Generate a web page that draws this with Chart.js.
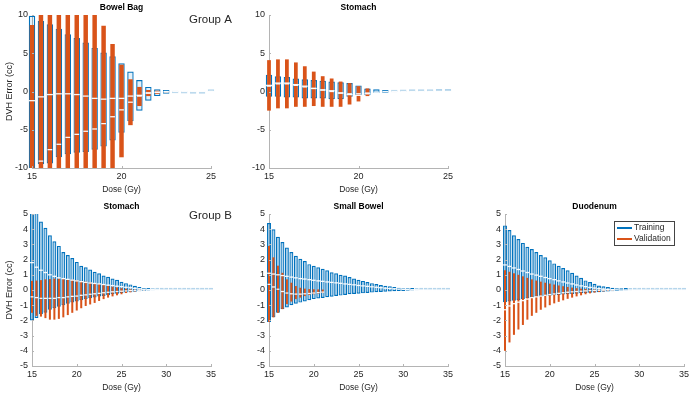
<!DOCTYPE html>
<html>
<head>
<meta charset="utf-8">
<script src="https://cdn.jsdelivr.net/npm/chart.js@4"></script>
<style>
  body { margin: 0; background: #fff; }
  #wrap { position: relative; width: 700px; height: 394px; background: #fff; }
  canvas { position: absolute; }
</style>
</head>
<body>
<div id="wrap">
  <canvas id="bowelA" width="232" height="197" style="left:0;top:0"></canvas>
  <canvas id="stomachA" width="230" height="197" style="left:237px;top:0"></canvas>
  <canvas id="stomachB" width="232" height="195" style="left:0;top:199px"></canvas>
  <canvas id="smallB" width="230" height="195" style="left:237px;top:199px"></canvas>
  <canvas id="duoB" width="230" height="195" style="left:473px;top:199px"></canvas>
</div>
<script>
// dose bins (Gy)
var doseA = [15, 15.5, 16, 16.5, 17, 17.5, 18, 18.5, 19, 19.5, 20, 20.5, 21, 21.5, 22, 22.5, 23, 23.5, 24, 24.5, 25];
var doseB = [15, 15.5, 16, 16.5, 17, 17.5, 18, 18.5, 19, 19.5, 20, 20.5, 21, 21.5, 22, 22.5, 23, 23.5, 24, 24.5,
             25, 25.5, 26, 26.5, 27, 27.5, 28, 28.5, 29, 29.5, 30, 30.5, 31, 31.5, 32, 32.5, 33, 33.5, 34, 34.5, 35];

// Group A - Bowel Bag
var bowelTrainHigh = [9.9, 9.2, 8.8, 8.2, 7.5, 7.0, 6.4, 5.7, 5.1, 4.6, 3.7, 2.6, 1.5, 0.6, 0.3, 0.2, 0.1, 0.06, 0.04, 0.03, 0.02];
var bowelTrainLow = [-12, -9.5, -9.4, -8.6, -8.2, -8.0, -7.9, -7.6, -7.2, -6.4, -5.4, -3.9, -2.5, -1.2, -0.6, -0.3, -0.2, -0.1, -0.06, -0.04, -0.02];
var bowelTrainMed = [-1.2, -0.7, -0.4, -0.3, -0.3, -0.4, -0.6, -0.9, -1.0, -0.9, -0.9, -0.6, -0.5, -0.2, -0.1, -0.05, 0, 0, 0, 0, 0];
var bowelValHigh = [8.7, 12, 12, 12, 12, 12, 12, 12, 8.6, 6.2, 3.5, 1.6, 0.6, 0.2, 0.1, 0.05, null, null, null, null, null];
var bowelValLow = [-12, -12, -12, -12, -12, -12, -12, -12, -12, -12, -8.6, -4.4, -1.9, -0.6, -0.3, -0.1, null, null, null, null, null];
var bowelValMed = [null, -9.1, -7.6, -6.9, -6.0, -5.6, -5.2, -4.9, -4.2, -3.3, -2.4, -1.4, -0.6, -0.2, -0.1, 0, null, null, null, null, null];

// Group A - Stomach
var stomATrainHigh = [2.2, 2.0, 1.9, 1.7, 1.6, 1.5, 1.4, 1.3, 1.2, 1.1, 0.8, 0.4, 0.3, 0.2, 0.1, 0.06, 0.04, 0.03, 0.02, 0.01, 0.01];
var stomATrainLow = [-0.7, -0.7, -0.8, -0.8, -0.9, -0.9, -0.9, -1.0, -1.0, -0.7, -0.5, -0.5, -0.2, -0.15, -0.1, -0.06, -0.04, -0.03, -0.02, -0.01, -0.01];
var stomATrainMed = [0.8, 1.1, 1.1, 0.9, 0.7, 0.4, 0.2, 0.1, -0.2, -0.4, -0.5, -0.3, -0.1, 0, 0, 0, 0, 0, 0, 0, 0];
var stomAValHigh = [4.1, 4.2, 4.2, 3.8, 3.3, 2.6, 2.0, 1.7, 1.3, 1.1, 0.7, 0.4, null, null, null, null, null, null, null, null, null];
var stomAValLow = [-2.5, -2.2, -2.2, -2.0, -2.0, -1.9, -2.0, -2.0, -2.0, -1.7, -1.3, -0.6, null, null, null, null, null, null, null, null, null];
var stomAValMed = [0.7, 1.0, 1.0, 0.8, 0.6, 0.4, 0.2, 0.0, -0.2, -0.3, -0.3, -0.2, null, null, null, null, null, null, null, null, null];

// Group B - Stomach
var stomBTrainHigh = [5.6, 5.2, 4.5, 4.1, 3.6, 3.2, 2.9, 2.5, 2.3, 2.1, 1.85, 1.6, 1.5, 1.35, 1.2, 1.1, 0.95, 0.87, 0.76, 0.67,
                      0.54, 0.45, 0.37, 0.28, 0.2, 0.13, 0.09, 0.06, 0.04, 0.03, 0.02, 0.02, 0.01, 0.01, 0.01, 0.01, 0.01, 0.01, 0.01, 0.01, 0.01];
var stomBTrainLow = [-2.0, -1.85, -1.6, -1.5, -1.3, -1.2, -1.1, -1.0, -0.9, -0.83, -0.76, -0.67, -0.6, -0.54, -0.5, -0.43, -0.39, -0.35, -0.28, -0.24,
                     -0.2, -0.17, -0.14, -0.11, -0.08, -0.06, -0.04, -0.03, -0.02, -0.02, -0.01, -0.01, -0.01, -0.01, -0.01, -0.01, -0.01, -0.01, -0.01, -0.01, -0.01];
var stomBTrainMed = [1.8, 1.5, 1.3, 1.15, 1.0, 0.9, 0.8, 0.75, 0.7, 0.65, 0.6, 0.55, 0.5, 0.46, 0.43, 0.4, 0.36, 0.32, 0.29, 0.25,
                     0.22, 0.18, 0.15, 0.11, 0.08, 0.05, 0.03, 0.02, 0.01, 0, 0, 0, 0, 0, 0, 0, 0, 0, 0, 0, 0];
var stomBValHigh = [0.6, 0.62, 0.65, 0.7, 0.72, 0.75, 0.75, 0.72, 0.7, 0.68, 0.65, 0.6, 0.55, 0.5, 0.45, 0.4, 0.33, 0.27, 0.22, 0.17,
                    0.12, 0.08, 0.05, 0.03, 0.02, 0.01, null, null, null, null, null, null, null, null, null, null, null, null, null, null, null];
var stomBValLow = [-1.5, -1.7, -1.75, -1.85, -1.95, -1.95, -1.9, -1.8, -1.65, -1.5, -1.35, -1.2, -1.05, -0.95, -0.85, -0.72, -0.6, -0.5, -0.42, -0.35,
                   -0.28, -0.2, -0.15, -0.1, -0.06, -0.03, null, null, null, null, null, null, null, null, null, null, null, null, null, null, null];
var stomBValMed = [-0.45, -0.5, -0.55, -0.55, -0.55, -0.55, -0.5, -0.5, -0.45, -0.42, -0.4, -0.35, -0.32, -0.28, -0.25, -0.22, -0.18, -0.15, -0.12, -0.1,
                   -0.08, -0.06, -0.04, -0.03, -0.02, -0.01, null, null, null, null, null, null, null, null, null, null, null, null, null, null, null];

// Group B - Small Bowel
var smallTrainHigh = [4.4, 4.0, 3.5, 3.15, 2.8, 2.5, 2.25, 2.05, 1.9, 1.7, 1.6, 1.5, 1.4, 1.3, 1.17, 1.1, 1.0, 0.95, 0.85, 0.76,
                      0.67, 0.6, 0.52, 0.45, 0.39, 0.33, 0.28, 0.24, 0.2, 0.15, 0.12, 0.09, 0.07, 0.05, 0.03, 0.02, 0.01, 0.01, 0.01, 0.01, 0.01];
var smallTrainLow = [-2.1, -1.8, -1.5, -1.25, -1.15, -1.0, -0.9, -0.83, -0.76, -0.67, -0.6, -0.56, -0.52, -0.48, -0.44, -0.39, -0.37, -0.33, -0.28, -0.26,
                     -0.24, -0.22, -0.2, -0.17, -0.15, -0.13, -0.11, -0.1, -0.08, -0.07, -0.06, -0.05, -0.04, -0.03, -0.02, -0.01, -0.01, -0.01, -0.01, -0.01, -0.01];
var smallTrainMed = [1.1, 1.05, 1.0, 0.95, 0.9, 0.85, 0.8, 0.75, 0.72, 0.68, 0.64, 0.6, 0.57, 0.53, 0.5, 0.47, 0.44, 0.4, 0.37, 0.34,
                     0.3, 0.27, 0.24, 0.21, 0.18, 0.15, 0.12, 0.1, 0.08, 0.06, 0.04, 0.03, 0.02, 0.01, 0, 0, 0, 0, 0, 0, 0];
var smallValHigh = [2.9, 2.15, 1.6, 1.13, 0.7, 0.48, 0.26, 0.15, 0.09, 0.06, 0.05, 0.04, 0.03, null, null, null, null, null, null, null,
                    null, null, null, null, null, null, null, null, null, null, null, null, null, null, null, null, null, null, null, null, null];
var smallValLow = [-2.1, -1.8, -1.5, -1.26, -0.93, -0.76, -0.6, -0.5, -0.4, -0.33, -0.28, -0.24, -0.2, null, null, null, null, null, null, null,
                   null, null, null, null, null, null, null, null, null, null, null, null, null, null, null, null, null, null, null, null, null];
var smallValMed = [0.37, 0.2, 0.05, -0.1, -0.2, -0.25, -0.27, -0.27, -0.25, -0.23, -0.2, -0.17, -0.14, null, null, null, null, null, null, null,
                   null, null, null, null, null, null, null, null, null, null, null, null, null, null, null, null, null, null, null, null, null];

// Group B - Duodenum
var duoTrainHigh = [4.25, 3.95, 3.6, 3.35, 3.1, 2.85, 2.7, 2.5, 2.3, 2.15, 1.95, 1.75, 1.6, 1.45, 1.3, 1.13, 0.95, 0.8, 0.63, 0.52,
                    0.41, 0.3, 0.24, 0.2, 0.15, 0.12, 0.09, 0.06, 0.04, 0.02, 0.01, 0.01, 0.01, 0.01, 0.01, 0.01, 0.01, 0.01, 0.01, 0.01, 0.01];
var duoTrainLow = [-0.8, -0.75, -0.7, -0.65, -0.6, -0.55, -0.5, -0.45, -0.42, -0.4, -0.38, -0.35, -0.33, -0.3, -0.28, -0.26, -0.24, -0.22, -0.2, -0.18,
                   -0.16, -0.14, -0.12, -0.1, -0.08, -0.06, -0.05, -0.04, -0.03, -0.02, -0.01, -0.01, -0.01, -0.01, -0.01, -0.01, -0.01, -0.01, -0.01, -0.01, -0.01];
var duoTrainMed = [1.65, 1.55, 1.45, 1.35, 1.25, 1.15, 1.05, 0.98, 0.9, 0.82, 0.75, 0.68, 0.6, 0.53, 0.46, 0.4, 0.33, 0.27, 0.22, 0.17,
                   0.13, 0.09, 0.06, 0.04, 0.02, 0.01, 0, 0, 0, 0, 0, 0, 0, 0, 0, 0, 0, 0, 0, 0, 0];
var duoValHigh = [1.3, 1.2, 1.1, 1.0, 0.9, 0.8, 0.7, 0.62, 0.55, 0.48, 0.42, 0.36, 0.3, 0.25, 0.2, 0.16, 0.12, 0.09, 0.07, 0.05,
                  0.04, 0.03, 0.02, 0.01, 0.01, null, null, null, null, null, null, null, null, null, null, null, null, null, null, null, null];
var duoValLow = [-4.0, -3.45, -2.95, -2.6, -2.3, -1.95, -1.7, -1.5, -1.3, -1.15, -1.0, -0.88, -0.78, -0.68, -0.58, -0.5, -0.42, -0.35, -0.28, -0.22,
                 -0.17, -0.13, -0.09, -0.06, -0.04, null, null, null, null, null, null, null, null, null, null, null, null, null, null, null, null];
var duoValMed = [-1.3, -1.05, -0.9, -0.8, -0.7, -0.6, -0.5, -0.45, -0.4, -0.35, -0.3, -0.26, -0.22, -0.18, -0.15, -0.12, -0.1, -0.08, -0.06, -0.04,
                 -0.03, -0.02, -0.01, 0, 0, null, null, null, null, null, null, null, null, null, null, null, null, null, null, null, null];

var yTicksA = [-10, -5, 0, 5, 10];
var yTicksB = [-5, -4, -3, -2, -1, 0, 1, 2, 3, 4, 5];

var BLUE = '#0072BD';
var ORANGE = '#D95319';
var AXIS = '#b4b4b4';
var TEXT = '#262626';
var FONT = "'Liberation Sans', Arial, sans-serif";

function boxes(dose, lo, hi) {
    return dose.map(function (d, i) { return { x: d, y: [lo[i], hi[i]] }; })
        .filter(function (p) { return p.y[1] != null; });
}
function meds(dose, m) {
    return dose.map(function (d, i) { return { x: d, y: m[i] }; })
        .filter(function (p) { return p.y != null; });
}

// titles, group labels, inward ticks and the legend
var decor = {
    id: 'decor',
    afterDraw: function (chart, args, o) {
        var ctx = chart.ctx, a = chart.chartArea, x = chart.scales.x, y = chart.scales.y;
        ctx.save();
        ctx.strokeStyle = AXIS;
        ctx.lineWidth = 1;
        x.ticks.forEach(function (t) {
            var px = Math.round(x.getPixelForValue(t.value)) + 0.5;
            ctx.beginPath(); ctx.moveTo(px, a.bottom); ctx.lineTo(px, a.bottom - 2); ctx.stroke();
        });
        y.ticks.forEach(function (t) {
            var py = Math.round(y.getPixelForValue(t.value)) + 0.5;
            ctx.beginPath(); ctx.moveTo(a.left, py); ctx.lineTo(a.left + 2, py); ctx.stroke();
        });
        ctx.fillStyle = '#000';
        ctx.textAlign = 'center';
        ctx.textBaseline = 'middle';
        ctx.font = 'bold 8.5px ' + FONT;
        ctx.fillText(o.title, (a.left + a.right) / 2, 8);
        if (o.group) {
            ctx.font = '11.5px ' + FONT;
            ctx.textAlign = 'left';
            ctx.fillStyle = TEXT;
            ctx.fillText(o.group, 189, o.groupY);
        }
        if (o.legend) {
            ctx.fillStyle = '#fff';
            ctx.fillRect(141.5, 22.5, 60, 24);
            ctx.strokeStyle = '#444';
            ctx.strokeRect(141.5, 22.5, 60, 24);
            ctx.lineWidth = 2;
            ctx.strokeStyle = BLUE;
            ctx.beginPath(); ctx.moveTo(144, 29); ctx.lineTo(159, 29); ctx.stroke();
            ctx.strokeStyle = ORANGE;
            ctx.beginPath(); ctx.moveTo(144, 40); ctx.lineTo(159, 40); ctx.stroke();
            ctx.fillStyle = TEXT;
            ctx.font = '8.5px ' + FONT;
            ctx.textAlign = 'left';
            ctx.fillText('Training', 161, 29);
            ctx.fillText('Validation', 161, 40);
        }
        ctx.restore();
    }
};

function doseChart(id, p) {
    var ctx = document.getElementById(id).getContext('2d');
    var clip = { left: 6, right: 6, top: 0, bottom: 0 };
    return new Chart(ctx, {
        type: 'bar',
        data: {
            datasets: [{
                type: 'scatter',
                data: meds(p.dose, p.trainMed),
                pointStyle: 'line', pointRadius: p.medR, borderColor: 'rgba(255,255,255,0.95)', borderWidth: 1.3,
                clip: clip, order: 0
            }, {
                type: 'scatter',
                data: meds(p.dose, p.valMed),
                pointStyle: 'line', pointRadius: p.medR * 0.8, borderColor: 'rgba(255,255,255,0.95)', borderWidth: 1.3,
                clip: clip, order: 0
            }, {
                label: 'Validation',
                data: boxes(p.dose, p.valLow, p.valHigh),
                backgroundColor: ORANGE,
                borderWidth: 0,
                grouped: false,
                barPercentage: p.valBar,
                categoryPercentage: 1,
                clip: clip, order: 1
            }, {
                label: 'Training',
                data: boxes(p.dose, p.trainLow, p.trainHigh),
                backgroundColor: p.fill,
                borderColor: function (c) {
                    var r = c.raw;
                    return r && (r.y[1] - r.y[0]) < p.faint ? 'rgba(0,114,189,0.3)' : BLUE;
                },
                borderWidth: 1.2,
                borderSkipped: false,
                minBarLength: 2.5,
                grouped: false,
                barPercentage: p.trainBar,
                categoryPercentage: 1,
                clip: clip, order: 2
            }]
        },
        options: {
            responsive: false,
            animation: false,
            layout: { padding: { top: 15, right: p.padRight, bottom: p.padBottom, left: 0 } },
            plugins: {
                legend: { display: false },
                tooltip: { enabled: false },
                decor: { title: p.title, group: p.group, groupY: p.groupY, legend: p.legend }
            },
            scales: {
                x: {
                    type: 'linear', min: p.dose[0], max: p.dose[p.dose.length - 1], offset: false,
                    grid: { display: false, drawTicks: false, offset: false },
                    border: { color: AXIS },
                    ticks: { stepSize: 5, padding: 3, color: TEXT, font: { family: FONT, size: 9 } },
                    title: { display: true, text: 'Dose (Gy)', color: TEXT, padding: 0, font: { family: FONT, size: 8.5 } },
                    afterFit: function (s) { s.height = 26.4; }
                },
                y: {
                    min: p.yTicks[0], max: p.yTicks[p.yTicks.length - 1],
                    afterBuildTicks: function (s) { s.ticks = p.yTicks.map(function (v) { return { value: v }; }); },
                    grid: { display: false, drawTicks: false },
                    border: { color: AXIS },
                    ticks: { padding: 4, color: TEXT, font: { family: FONT, size: 9 } },
                    title: { display: !!p.yTitle, text: 'DVH Error (cc)', color: TEXT, padding: { top: 4, bottom: 0 }, font: { family: FONT, size: 9 } },
                    afterFit: function (s) { s.width = 32; }
                }
            }
        },
        plugins: [decor]
    });
}

doseChart('bowelA', {
    title: 'Bowel Bag', group: 'Group A', groupY: 20, yTitle: true, padBottom: 2.6, padRight: 21,
    dose: doseA, yTicks: yTicksA, medR: 3, trainBar: 0.72, valBar: 0.5, fill: 'rgba(0,114,189,0.1)', faint: 0.35,
    trainLow: bowelTrainLow, trainHigh: bowelTrainHigh, trainMed: bowelTrainMed,
    valLow: bowelValLow, valHigh: bowelValHigh, valMed: bowelValMed
});
doseChart('stomachA', {
    title: 'Stomach', padBottom: 2.6, padRight: 19,
    dose: doseA, yTicks: yTicksA, medR: 3, trainBar: 0.72, valBar: 0.42, fill: 'rgba(0,114,189,0.3)', faint: 0.3,
    trainLow: stomATrainLow, trainHigh: stomATrainHigh, trainMed: stomATrainMed,
    valLow: stomAValLow, valHigh: stomAValHigh, valMed: stomAValMed
});
doseChart('stomachB', {
    title: 'Stomach', group: 'Group B', groupY: 17, yTitle: true, padBottom: 1.6, padRight: 21,
    dose: doseB, yTicks: yTicksB, medR: 1.9, trainBar: 0.88, valBar: 0.45, fill: 'rgba(0,114,189,0.3)', faint: 0.1,
    trainLow: stomBTrainLow, trainHigh: stomBTrainHigh, trainMed: stomBTrainMed,
    valLow: stomBValLow, valHigh: stomBValHigh, valMed: stomBValMed
});
doseChart('smallB', {
    title: 'Small Bowel', padBottom: 1.6, padRight: 19,
    dose: doseB, yTicks: yTicksB, medR: 1.9, trainBar: 0.88, valBar: 0.45, fill: 'rgba(0,114,189,0.3)', faint: 0.1,
    trainLow: smallTrainLow, trainHigh: smallTrainHigh, trainMed: smallTrainMed,
    valLow: smallValLow, valHigh: smallValHigh, valMed: smallValMed
});
doseChart('duoB', {
    title: 'Duodenum', legend: true, padBottom: 1.6, padRight: 19,
    dose: doseB, yTicks: yTicksB, medR: 1.9, trainBar: 0.88, valBar: 0.45, fill: 'rgba(0,114,189,0.3)', faint: 0.1,
    trainLow: duoTrainLow, trainHigh: duoTrainHigh, trainMed: duoTrainMed,
    valLow: duoValLow, valHigh: duoValHigh, valMed: duoValMed
});
</script>
</body>
</html>
